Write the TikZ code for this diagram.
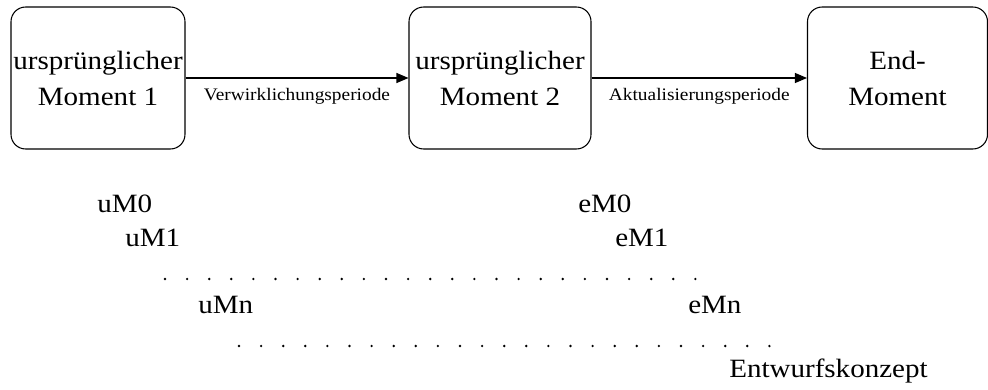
\documentclass[tikz,border=0pt]{standalone}
\usepackage{fontspec}
\setmainfont[FakeStretch=1.1]{Liberation Serif}
\usetikzlibrary{arrows.meta,positioning}
\tikzstyle{moment}=[draw, line width=0.8pt, rounded corners=11pt, align=center, inner sep=0pt, minimum height=106.5pt, font=\fontsize{19.8}{27}\selectfont]
\tikzstyle{line} = [draw, line width=0.8pt, -{Triangle[length=9pt,width=7.5pt]}]
\tikzstyle{period}=[font=\fontsize{13.2}{15}\selectfont]
\tikzstyle{instant}=[anchor=base west, inner sep=0pt, font=\fontsize{19.8}{24}\selectfont]

\begin{document}
\begin{tikzpicture}[x=0.75pt, y=-0.75pt]
  \useasboundingbox (0,0) rectangle (988,389);

  % moments
  \node[moment, minimum width=130.5pt] (um1) at (98,78) {urspr\"unglicher\\Moment 1};
  \node[moment, minimum width=136.5pt] (um2) at (500,78) {urspr\"unglicher\\Moment 2};
  \node[moment, minimum width=135pt] (em) at (897.5,78) {End-\\Moment};

  % periods
  \draw[line] (um1) -- (um2) node[period, midway, below=4pt] (verw) {Verwirklichungsperiode};
  \draw[line] (um2) -- (em) node[period, midway, below=4pt] (akt) {Aktualisierungsperiode};

  % instants
  \node[instant] (uM0) at (97,212) {uM0};
  \node[instant] (uM1) at (125,246) {uM1};
  \node[instant] (uMn) at (198,313) {uMn};
  \node[instant] (eM0) at (578,212) {eM0};
  \node[instant] (eM1) at (615,246) {eM1};
  \node[instant] (eMn) at (688,313) {eMn};
  \node[instant] (konzept) at (729,377) {Entwurfskonzept};

  % dots
  \foreach \i in {0,...,24}
    \fill (165+22.1*\i, 279) circle (1pt);
  \foreach \i in {0,...,24}
    \fill (239+22.1*\i, 346) circle (1pt);
\end{tikzpicture}
\end{document}
